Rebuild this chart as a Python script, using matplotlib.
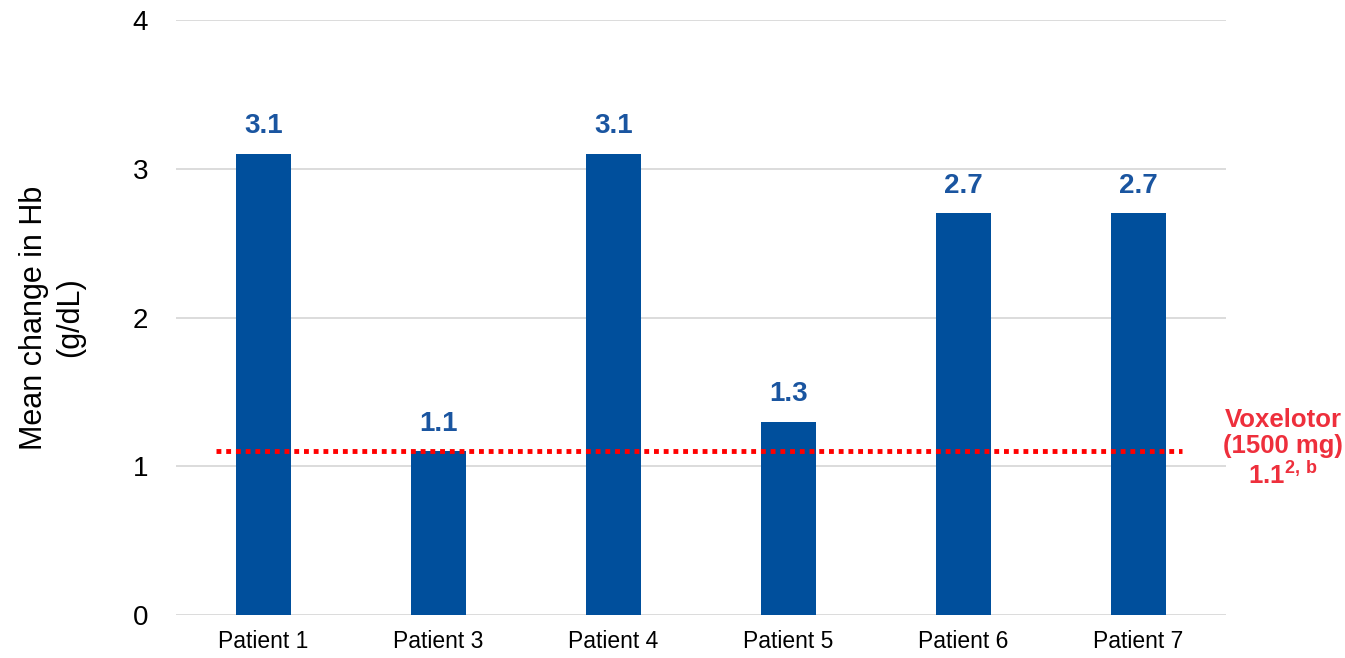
import matplotlib
matplotlib.use("Agg")
import matplotlib.pyplot as plt

plt.rcParams['font.family'] = ['Liberation Sans', 'DejaVu Sans']
plt.rcParams['mathtext.fontset'] = 'custom'
plt.rcParams['mathtext.rm'] = 'Liberation Sans'
plt.rcParams['mathtext.bf'] = 'Liberation Sans:bold'

patients = ["Patient 1", "Patient 3", "Patient 4", "Patient 5", "Patient 6", "Patient 7"]
hb_change = [3.1, 1.1, 3.1, 1.3, 2.7, 2.7]
voxelotor_ref = 1.1
y_ticks = [0, 1, 2, 3, 4]

bar_color = "#004F9C"
ref_color = "#EE2F3C"

fig = plt.figure(figsize=(13.45, 6.58), dpi=100)
ax = fig.add_axes([0.1309, 0.0653, 0.7806, 0.9043])

x = list(range(len(patients)))
ax.bar(x, hb_change, width=0.31, color=bar_color, zorder=3)

for xi, v in zip(x, hb_change):
    ax.text(xi, v + 0.1, f"{v:.1f}", ha="center", va="bottom",
            fontsize=20, fontweight="bold", color="#1A55A0", zorder=4)

# reference level for voxelotor
ax.plot([-0.27, 5.25], [voxelotor_ref, voxelotor_ref], color="#FF0000",
        linestyle=(0, (1, 1)), linewidth=3.5, zorder=5)
ax.text(5.825, voxelotor_ref + 0.02,
        "Voxelotor\n(1500 mg)\n" + f"{voxelotor_ref:.1f}" + r"$^{\mathbf{2,\,b}}$",
        ha="center", va="center", fontsize=18.5, fontweight="bold",
        color=ref_color, linespacing=1.12, clip_on=False)

ax.set_xlim(-0.5, 5.5)
ax.set_ylim(0, 4)
ax.set_yticks(y_ticks)
ax.set_xticks(x)
ax.set_xticklabels(patients, fontsize=16.5)
ax.tick_params(axis="y", labelsize=20, length=0, pad=20)
ax.tick_params(axis="x", length=0, pad=11)
ax.yaxis.grid(True, color="#D9D9D9", linewidth=1.3, zorder=0)
for s in ax.spines.values():
    s.set_visible(False)

ax.set_ylabel("Mean change in Hb\n(g/dL)", fontsize=22, labelpad=34, linespacing=1.3)

fig.savefig("out.png", dpi=100)
